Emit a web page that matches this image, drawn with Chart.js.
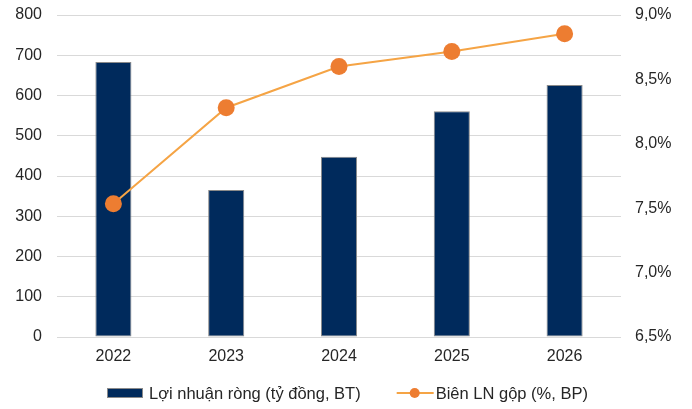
<!DOCTYPE html>
<html>
<head>
<meta charset="utf-8">
<script src="https://cdn.jsdelivr.net/npm/chart.js@4"></script>
<style>
  html, body { margin: 0; padding: 0; background: #ffffff; }
  #wrap { position: relative; width: 692px; height: 409px; }
</style>
</head>
<body>
<div id="wrap"><canvas id="c" width="692" height="409"></canvas></div>
<script>
const categories = ['2022', '2023', '2024', '2025', '2026'];
const netProfit = [683, 365, 448, 561, 626];
const grossMargin = [7.535, 8.28, 8.60, 8.716, 8.855];
const seriesLabels = ['Lợi nhuận ròng (tỷ đồng, BT)', 'Biên LN gộp (%, BP)'];
const leftTicks = { min: 0, max: 800, step: 100 };
const rightTicks = { min: 6.5, max: 9.0, step: 0.5 };

const NAVY = '#002a5c';
const BAR_BORDER = '#8a8a8a';
const LINE_COLOR = '#f5a445';
const POINT_COLOR = '#ed7d31';
const TEXT_COLOR = '#262626';
const FONT = '"Liberation Sans", Arial, sans-serif';
const FS = 16;

const customLegend = {
  id: 'customLegend',
  afterDraw(chart) {
    const ctx = chart.ctx;
    ctx.save();
    ctx.font = '16.5px ' + FONT;
    const w1 = ctx.measureText(seriesLabels[0]).width;
    const w2 = ctx.measureText(seriesLabels[1]).width;
    const total = 36 + 6 + w1 + 36 + 37 + 2 + w2;
    let x = Math.round(347.5 - total / 2);
    const y = 393;
    // bar swatch
    ctx.fillStyle = NAVY;
    ctx.fillRect(x, y - 5, 36, 10);
    ctx.strokeStyle = BAR_BORDER;
    ctx.lineWidth = 1;
    ctx.strokeRect(x + 0.5, y - 4.5, 35, 9);
    x += 42;
    ctx.fillStyle = TEXT_COLOR;
    ctx.textBaseline = 'middle';
    ctx.textAlign = 'left';
    ctx.fillText(seriesLabels[0], x, y + 1);
    x += w1 + 36;
    // line swatch
    ctx.strokeStyle = LINE_COLOR;
    ctx.lineWidth = 2;
    ctx.beginPath();
    ctx.moveTo(x, y);
    ctx.lineTo(x + 37, y);
    ctx.stroke();
    ctx.fillStyle = POINT_COLOR;
    ctx.beginPath();
    ctx.arc(x + 18, y, 5, 0, Math.PI * 2);
    ctx.fill();
    x += 39;
    ctx.fillStyle = TEXT_COLOR;
    ctx.fillText(seriesLabels[1], x, y + 1);
    ctx.restore();
  }
};

Chart.defaults.font.family = FONT;
Chart.defaults.font.size = FS;
Chart.defaults.color = TEXT_COLOR;

new Chart(document.getElementById('c'), {
  type: 'bar',
  data: {
    labels: categories,
    datasets: [
      {
        type: 'line',
        label: seriesLabels[1],
        data: grossMargin,
        yAxisID: 'y1',
        borderColor: LINE_COLOR,
        borderWidth: 2,
        pointRadius: 8.5,
        pointHoverRadius: 8.5,
        pointBackgroundColor: POINT_COLOR,
        pointBorderColor: POINT_COLOR,
        pointBorderWidth: 0,
        tension: 0,
        order: 0
      },
      {
        type: 'bar',
        label: seriesLabels[0],
        data: netProfit,
        yAxisID: 'y',
        backgroundColor: NAVY,
        borderColor: BAR_BORDER,
        borderWidth: 1,
        borderSkipped: false,
        categoryPercentage: 1,
        barPercentage: 0.32,
        order: 1
      }
    ]
  },
  options: {
    responsive: false,
    animation: false,
    devicePixelRatio: 1,
    layout: { padding: 0 },
    plugins: {
      legend: { display: false },
      tooltip: { enabled: false }
    },
    scales: {
      x: {
        grid: { display: false, drawTicks: false },
        border: { display: false },
        ticks: { padding: 10, color: TEXT_COLOR, font: { size: FS } },
        afterFit(s) { s.height = 72; }
      },
      y: {
        position: 'left',
        min: leftTicks.min,
        max: leftTicks.max,
        ticks: { stepSize: leftTicks.step, padding: 15, color: TEXT_COLOR, font: { size: FS } },
        grid: { color: '#d9d9d9', lineWidth: 1, drawTicks: false },
        border: { display: false },
        afterFit(s) { s.width = 57; s.paddingTop = 15; s.paddingBottom = 8; }
      },
      y1: {
        position: 'right',
        min: rightTicks.min,
        max: rightTicks.max,
        ticks: {
          stepSize: rightTicks.step,
          padding: 14,
          color: TEXT_COLOR,
          font: { size: FS },
          callback: v => v.toFixed(1).replace('.', ',') + '%'
        },
        grid: { display: false, drawTicks: false },
        border: { display: false },
        afterFit(s) { s.width = 71; s.paddingTop = 15; s.paddingBottom = 8; }
      }
    }
  },
  plugins: [customLegend]
});
</script>
</body>
</html>
